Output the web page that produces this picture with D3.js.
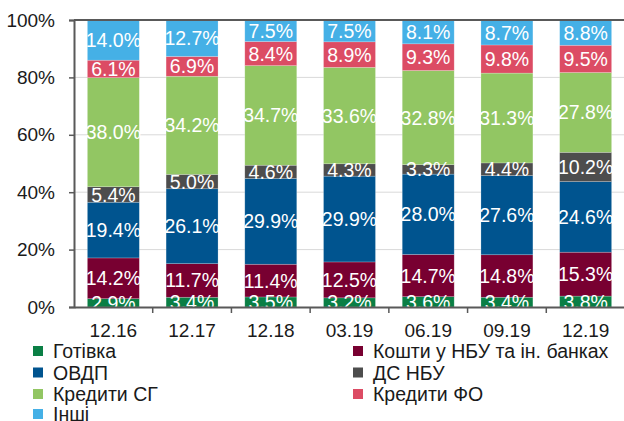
<!DOCTYPE html>
<html><head><meta charset="utf-8">
<script src="https://cdn.jsdelivr.net/npm/d3@7"></script>
<style>body{margin:0;background:#fff}svg{display:block;font-family:"Liberation Sans",Arial,sans-serif}</style>
</head><body><svg id="c" width="624" height="421"></svg>
<script>
const categories = ["12.16","12.17","12.18","03.19","06.19","09.19","12.19"];
const seriesNames = ["Готівка","Кошти у НБУ та ін. банках","ОВДП","ДС НБУ","Кредити СГ","Кредити ФО","Інші"];
const gotivka = [2.9,3.4,3.5,3.2,3.6,3.4,3.8];
const koshty = [14.2,11.7,11.4,12.5,14.7,14.8,15.3];
const ovdp = [19.4,26.1,29.9,29.9,28.0,27.6,24.6];
const dsNbu = [5.4,5.0,4.6,4.3,3.3,4.4,10.2];
const kredytySG = [38.0,34.2,34.7,33.6,32.8,31.3,27.8];
const kredytyFO = [6.1,6.9,8.4,8.9,9.3,9.8,9.5];
const inshi = [14.0,12.7,7.5,7.5,8.1,8.7,8.8];
const yTicks = [0,20,40,60,80,100];
const colors = ["#0a7f45","#780031","#00548f","#4d4d4d","#92c663","#dc4c64","#45b0e6"];

const seriesValues = [gotivka,koshty,ovdp,dsNbu,kredytySG,kredytyFO,inshi];
const rows = categories.map((c,i)=>{const r={cat:c}; seriesNames.forEach((s,j)=>r[s]=seriesValues[j][i]); return r;});
const stack = d3.stack().keys(seriesNames)(rows);

const svg = d3.select("#c");
const L=74, R=625, T=20, B=307;
const x = d3.scaleBand().domain(categories).range([L,R]).paddingInner(0.34).paddingOuter(0.17);
const y = d3.scaleLinear().domain([0,100]).range([B,T]);

// gridlines
svg.append("g").selectAll("line").data([20,40,60,80]).join("line")
  .attr("x1",L).attr("x2",R).attr("y1",d=>y(d)).attr("y2",d=>y(d))
  .attr("stroke","#d9d9d9").attr("stroke-width",1);

// bars
const g = svg.append("g");
stack.forEach((s,j)=>{
  g.selectAll(null).data(s).join("rect")
    .attr("x",d=>x(d.data.cat)).attr("width",x.bandwidth())
    .attr("y",d=>y(d[1])).attr("height",d=>y(d[0])-y(d[1]))
    .attr("fill",colors[j]).attr("stroke","rgba(255,255,255,0.35)").attr("stroke-width",0.6);
});

// clip for labels
svg.append("clipPath").attr("id","pc").append("rect").attr("x",L).attr("y",T).attr("width",R-L).attr("height",B-T);
const lg = svg.append("g").attr("clip-path","url(#pc)");
stack.forEach((s,j)=>{
  lg.selectAll(null).data(s).join("text")
    .attr("x",d=>x(d.data.cat)+x.bandwidth()/2)
    .attr("y",d=>y((d[0]+d[1])/2))
    .attr("dy","0.36em").attr("text-anchor","middle")
    .attr("fill","#fff").attr("font-size",19.5)
    .text(d=>d.data[seriesNames[j]].toFixed(1)+"%");
});

// axes
const axisColor="#595959";
const yAxis = svg.append("g").attr("transform",`translate(${L},0)`)
  .call(d3.axisLeft(y).tickValues(yTicks).tickFormat(d=>d+"%").tickSize(5).tickPadding(14));
yAxis.select(".domain").attr("stroke",axisColor).attr("stroke-width",2);
yAxis.selectAll(".tick line").attr("stroke",axisColor).attr("stroke-width",1.5);
yAxis.selectAll("text").attr("font-size",19).attr("fill","#1a1a1a").attr("font-family","Liberation Sans, Arial, sans-serif");

// top border
svg.append("line").attr("x1",L).attr("x2",R).attr("y1",T).attr("y2",T).attr("stroke",axisColor).attr("stroke-width",2);

// x axis
const xAxis = svg.append("g").attr("transform",`translate(0,${B})`)
  .call(d3.axisBottom(x).tickSize(0).tickPadding(17));
xAxis.select(".domain").attr("stroke",axisColor).attr("stroke-width",2);
xAxis.selectAll("text").attr("font-size",19).attr("fill","#1a1a1a").attr("font-family","Liberation Sans, Arial, sans-serif");
const step = x.step();
svg.append("g").selectAll("line").data(d3.range(1,categories.length)).join("line")
  .attr("x1",i=>L+i*step).attr("x2",i=>L+i*step).attr("y1",B).attr("y2",B+6)
  .attr("stroke",axisColor).attr("stroke-width",1.5);

// legend
const legPos = [[33,351],[353,351],[33,372.5],[353,372.5],[33,394],[353,394],[33,414]];
const leg = svg.append("g");
seriesNames.forEach((s,j)=>{
  const [lx,ly]=legPos[j];
  leg.append("rect").attr("x",lx).attr("y",ly-5).attr("width",10).attr("height",10).attr("fill",colors[j]);
  leg.append("text").attr("x",lx+20).attr("y",ly).attr("dy","0.36em").attr("font-size",19.5).attr("fill","#1a1a1a").text(s);
});
</script></body></html>
